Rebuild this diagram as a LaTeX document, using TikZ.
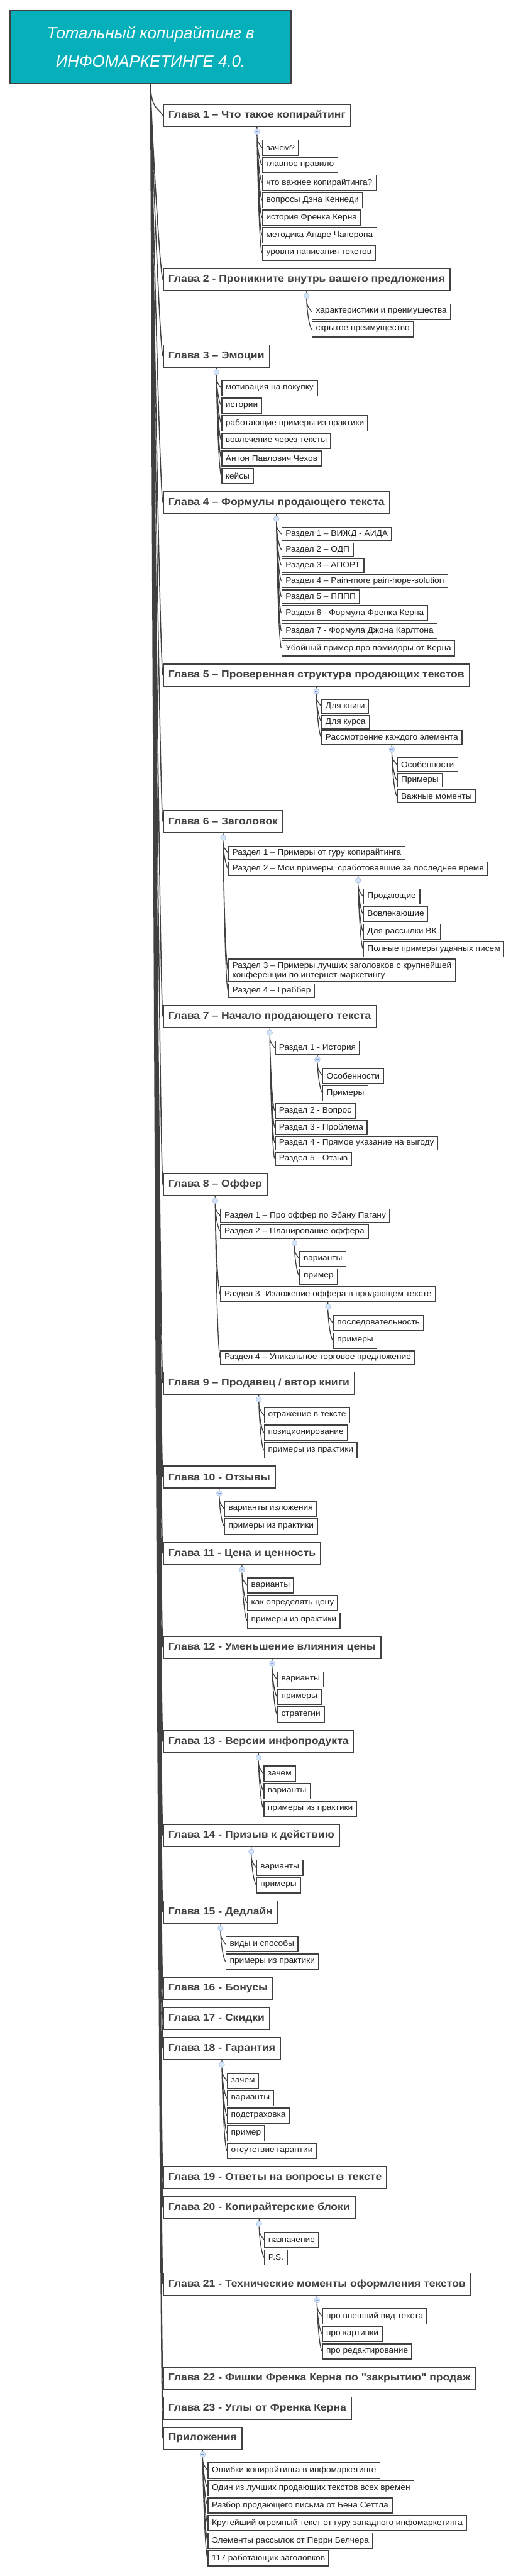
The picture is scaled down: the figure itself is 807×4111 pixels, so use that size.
\documentclass[tikz,border=0pt]{standalone}
\usepackage{fontspec}
\setmainfont{Liberation Sans}[FakeStretch=1.06]
\newfontfamily\glavaface{Liberation Sans}[FakeStretch=1.1]
\newfontfamily\titlefont{Liberation Sans}
\usetikzlibrary{calc}

\definecolor{ink}{HTML}{404040}
\definecolor{leafink}{HTML}{1E1E1E}
\definecolor{titlefill}{HTML}{06B0BA}
\definecolor{knobfill}{HTML}{D6E4F8}
\definecolor{knobline}{HTML}{A4BEEA}
\definecolor{knobdash}{HTML}{7D9AD0}

\newcommand\glavafont{\glavaface\fontsize{16}{19}\selectfont\bfseries}
\newcommand\punktfont{\fontsize{13}{15}\selectfont}

\begin{document}
\begin{tikzpicture}[x=1pt, y=-1pt,
    every node/.style={text=leafink, font=\punktfont},
    rootbox/.style={draw=ink, line width=2pt, fill=titlefill, anchor=north west,
        minimum width=448pt, minimum height=116.6pt, align=center, text=white,
        font=\titlefont\itshape\fontsize{26}{45}\selectfont},
    glava/.style={draw=ink, line width=1.7pt, fill=white, anchor=north west,
        minimum height=35.3pt, inner xsep=8pt, inner ysep=0pt, text=ink, font=\glavafont},
    punkt/.style={draw=ink, line width=1.5pt, fill=white, anchor=north west, xshift=8pt,
        minimum height=24.3pt, inner xsep=6pt, inner ysep=0pt},
    razdel/.style={punkt, minimum height=21.7pt},
    knob/.style={circle, draw=knobline, fill=knobfill, line width=0.6pt,
        minimum size=8.7pt, inner sep=0pt,
        path picture={\draw[knobdash, line width=0.8pt]
            ([xshift=-2pt]path picture bounding box.center) --
            ([xshift=2pt]path picture bounding box.center);}},
    trunk/.style={draw=ink, line width=1.5pt,
        to path={.. controls +(0,40) and +(-5,-10) .. (\tikztotarget)}},
    twig/.style={draw=ink, line width=1.3pt,
        to path={.. controls +(0,12) and +(-5,-7) .. (\tikztotarget)}},
]

\fill[white] (0,0) rectangle (807,4111);
\useasboundingbox (0,0) rectangle (807,4111);

% --- ROOT ---
\node[rootbox] (root) at (15.5,15.7) {Тотальный копирайтинг в\\ИНФОМАРКЕТИНГЕ 4.0.};

% --- Chapter 1 ---
\node[glava] (g1) at (260,165.7) {Глава 1 – Что такое копирайтинг};
\node[knob] (k1) at ([yshift=-7.3pt]g1.south) {};
\node[punkt] (g1a) at (k1 |- 0,222.7) {зачем?};
\node[punkt] (g1b) at (k1 |- 0,250.7) {главное правило};
\node[punkt] (g1c) at (k1 |- 0,278.7) {что важнее копирайтинга?};
\node[punkt] (g1d) at (k1 |- 0,306.7) {вопросы Дэна Кеннеди};
\node[punkt] (g1e) at (k1 |- 0,334.7) {история Френка Керна};
\node[punkt] (g1f) at (k1 |- 0,362.7) {методика Андре Чаперона};
\node[punkt] (g1g) at (k1 |- 0,390.7) {уровни написания текстов};
\draw[twig] (g1.south) -- (k1.north)
    (k1.south) to (g1a.west) (k1.south) to (g1b.west) (k1.south) to (g1c.west)
    (k1.south) to (g1d.west) (k1.south) to (g1e.west) (k1.south) to (g1f.west)
    (k1.south) to (g1g.west);

% --- Chapter 2 ---
\node[glava] (g2) at (260,427.7) {Глава 2 - Проникните внутрь вашего предложения};
\node[knob] (k2) at ([yshift=-7.3pt]g2.south) {};
\node[punkt] (g2a) at (k2 |- 0,484.7) {характеристики и преимущества};
\node[punkt] (g2b) at (k2 |- 0,512.7) {скрытое преимущество};
\draw[twig] (g2.south) -- (k2.north)
    (k2.south) to (g2a.west) (k2.south) to (g2b.west);

% --- Chapter 3 ---
\node[glava] (g3) at (260,549.7) {Глава 3 – Эмоции};
\node[knob] (k3) at ([yshift=-7.3pt]g3.south) {};
\node[punkt] (g3a) at (k3 |- 0,606.7) {мотивация на покупку};
\node[punkt] (g3b) at (k3 |- 0,634.7) {истории};
\node[punkt] (g3c) at (k3 |- 0,662.7) {работающие примеры из практики};
\node[punkt] (g3d) at (k3 |- 0,690.7) {вовлечение через тексты};
\node[punkt] (g3e) at (k3 |- 0,718.7) {Антон Павлович Чехов};
\node[punkt] (g3f) at (k3 |- 0,746.7) {кейсы};
\draw[twig] (g3.south) -- (k3.north)
    (k3.south) to (g3a.west) (k3.south) to (g3b.west) (k3.south) to (g3c.west)
    (k3.south) to (g3d.west) (k3.south) to (g3e.west) (k3.south) to (g3f.west);

% --- Chapter 4 ---
\node[glava] (g4) at (260,783.7) {Глава 4 – Формулы продающего текста};
\node[knob] (k4) at ([yshift=-7.3pt]g4.south) {};
\node[razdel] (g4a) at (k4 |- 0,840.7) {Раздел 1 – ВИЖД - АИДА};
\node[razdel] (g4b) at (k4 |- 0,865.7) {Раздел 2 – ОДП};
\node[razdel] (g4c) at (k4 |- 0,890.7) {Раздел 3 – АПОРТ};
\node[razdel] (g4d) at (k4 |- 0,915.7) {Раздел 4 – Pain-more pain-hope-solution};
\node[razdel] (g4e) at (k4 |- 0,940.7) {Раздел 5 – ПППП};
\node[punkt] (g4f) at (k4 |- 0,965.7) {Раздел 6 - Формула Френка Керна};
\node[punkt] (g4g) at (k4 |- 0,993.7) {Раздел 7 - Формула Джона Карлтона};
\node[punkt] (g4h) at (k4 |- 0,1021.7) {Убойный пример про помидоры от Керна};
\draw[twig] (g4.south) -- (k4.north)
    (k4.south) to (g4a.west) (k4.south) to (g4b.west) (k4.south) to (g4c.west)
    (k4.south) to (g4d.west) (k4.south) to (g4e.west) (k4.south) to (g4f.west)
    (k4.south) to (g4g.west) (k4.south) to (g4h.west);

% --- Chapter 5 ---
\node[glava] (g5) at (260,1058.7) {Глава 5 – Проверенная структура продающих текстов};
\node[knob] (k5) at ([yshift=-7.3pt]g5.south) {};
\node[razdel] (g5a) at (k5 |- 0,1115.7) {Для книги};
\node[razdel] (g5b) at (k5 |- 0,1140.7) {Для курса};
\node[razdel] (g5c) at (k5 |- 0,1165.7) {Рассмотрение каждого элемента};
\node[knob] (k5c) at ([yshift=-7pt]g5c.south) {};
\node[razdel] (g5c1) at (k5c |- 0,1208.7) {Особенности};
\node[razdel] (g5c2) at (k5c |- 0,1233.7) {Примеры};
\node[razdel] (g5c3) at (k5c |- 0,1258.7) {Важные моменты};
\draw[twig] (g5.south) -- (k5.north)
    (k5.south) to (g5a.west) (k5.south) to (g5b.west) (k5.south) to (g5c.west)
    (g5c.south) -- (k5c.north)
    (k5c.south) to (g5c1.west) (k5c.south) to (g5c2.west) (k5c.south) to (g5c3.west);

% --- Chapter 6 ---
\node[glava] (g6) at (260,1292.7) {Глава 6 – Заголовок};
\node[knob] (k6) at ([yshift=-7.3pt]g6.south) {};
\node[razdel] (g6a) at (k6 |- 0,1349.7) {Раздел 1 – Примеры от гуру копирайтинга};
\node[razdel] (g6b) at (k6 |- 0,1374.7) {Раздел 2 – Мои примеры, сработовавшие за последнее время};
\node[knob] (k6b) at ([yshift=-7pt]g6b.south) {};
\node[punkt] (g6b1) at (k6b |- 0,1417.7) {Продающие};
\node[punkt] (g6b2) at (k6b |- 0,1446) {Вовлекающие};
\node[punkt] (g6b3) at (k6b |- 0,1474) {Для рассылки ВК};
\node[punkt] (g6b4) at (k6b |- 0,1502) {Полные примеры удачных писем};
\node[punkt, align=left, minimum height=36pt] (g6c) at (k6 |- 0,1530)
    {Раздел 3 – Примеры лучших заголовков с крупнейшей\\конференции по интернет-маркетингу};
\node[razdel] (g6d) at (k6 |- 0,1569.7) {Раздел 4 – Граббер};
\draw[twig] (g6.south) -- (k6.north)
    (k6.south) to (g6a.west) (k6.south) to (g6b.west)
    (g6b.south) -- (k6b.north)
    (k6b.south) to (g6b1.west) (k6b.south) to (g6b2.west)
    (k6b.south) to (g6b3.west) (k6b.south) to (g6b4.west)
    (k6.south) to (g6c.west) (k6.south) to (g6d.west);

% --- Chapter 7 ---
\node[glava] (g7) at (260,1603.7) {Глава 7 – Начало продающего текста};
\node[knob] (k7) at ([yshift=-7.3pt]g7.south) {};
\node[razdel] (g7a) at (k7 |- 0,1660.7) {Раздел 1 - История};
\node[knob] (k7a) at ([yshift=-7pt]g7a.south) {};
\node[punkt] (g7a1) at (k7a |- 0,1703.7) {Особенности};
\node[punkt] (g7a2) at (k7a |- 0,1731.7) {Примеры};
\node[punkt] (g7b) at (k7 |- 0,1760) {Раздел 2 - Вопрос};
\node[razdel] (g7c) at (k7 |- 0,1787.7) {Раздел 3 - Проблема};
\node[razdel] (g7d) at (k7 |- 0,1812.7) {Раздел 4 - Прямое указание на выгоду};
\node[razdel] (g7e) at (k7 |- 0,1837.7) {Раздел 5 - Отзыв};
\draw[twig] (g7.south) -- (k7.north)
    (k7.south) to (g7a.west)
    (g7a.south) -- (k7a.north)
    (k7a.south) to (g7a1.west) (k7a.south) to (g7a2.west)
    (k7.south) to (g7b.west) (k7.south) to (g7c.west)
    (k7.south) to (g7d.west) (k7.south) to (g7e.west);

% --- Chapter 8 ---
\node[glava] (g8) at (260,1872) {Глава 8 – Оффер};
\node[knob] (k8) at ([yshift=-7.3pt]g8.south) {};
\node[razdel] (g8a) at (k8 |- 0,1928.7) {Раздел 1 – Про оффер по Эбану Пагану};
\node[razdel] (g8b) at (k8 |- 0,1953.7) {Раздел 2 – Планирование оффера};
\node[knob] (k8b) at ([yshift=-7pt]g8b.south) {};
\node[punkt] (g8b1) at (k8b |- 0,1996.3) {варианты};
\node[punkt] (g8b2) at (k8b |- 0,2024.3) {пример};
\node[punkt] (g8c) at (k8 |- 0,2052.7) {Раздел 3 -Изложение оффера в продающем тексте};
\node[knob] (k8c) at ([yshift=-7pt]g8c.south) {};
\node[punkt] (g8c1) at (k8c |- 0,2098.7) {последовательность};
\node[punkt] (g8c2) at (k8c |- 0,2126.7) {примеры};
\node[razdel] (g8d) at (k8 |- 0,2155) {Раздел 4 – Уникальное торговое предложение};
\draw[twig] (g8.south) -- (k8.north)
    (k8.south) to (g8a.west) (k8.south) to (g8b.west)
    (g8b.south) -- (k8b.north)
    (k8b.south) to (g8b1.west) (k8b.south) to (g8b2.west)
    (k8.south) to (g8c.west)
    (g8c.south) -- (k8c.north)
    (k8c.south) to (g8c1.west) (k8c.south) to (g8c2.west)
    (k8.south) to (g8d.west);

% --- Chapter 9 ---
\node[glava] (g9) at (260,2188.7) {Глава 9 – Продавец / автор книги};
\node[knob] (k9) at ([yshift=-7.3pt]g9.south) {};
\node[punkt] (g9a) at (k9 |- 0,2245.7) {отражение в тексте};
\node[punkt] (g9b) at (k9 |- 0,2273.7) {позиционирование};
\node[punkt] (g9c) at (k9 |- 0,2301.7) {примеры из практики};
\draw[twig] (g9.south) -- (k9.north)
    (k9.south) to (g9a.west) (k9.south) to (g9b.west) (k9.south) to (g9c.west);

% --- Chapter 10 ---
\node[glava] (g10) at (260,2338.7) {Глава 10 - Отзывы};
\node[knob] (k10) at ([yshift=-7.3pt]g10.south) {};
\node[punkt] (g10a) at (k10 |- 0,2395.3) {варианты изложения};
\node[punkt] (g10b) at (k10 |- 0,2423.3) {примеры из практики};
\draw[twig] (g10.south) -- (k10.north)
    (k10.south) to (g10a.west) (k10.south) to (g10b.west);

% --- Chapter 11 ---
\node[glava] (g11) at (260,2460.7) {Глава 11 - Цена и ценность};
\node[knob] (k11) at ([yshift=-7.3pt]g11.south) {};
\node[punkt] (g11a) at (k11 |- 0,2517.3) {варианты};
\node[punkt] (g11b) at (k11 |- 0,2545.3) {как определять цену};
\node[punkt] (g11c) at (k11 |- 0,2573.3) {примеры из практики};
\draw[twig] (g11.south) -- (k11.north)
    (k11.south) to (g11a.west) (k11.south) to (g11b.west) (k11.south) to (g11c.west);

% --- Chapter 12 ---
\node[glava] (g12) at (260,2610.3) {Глава 12 - Уменьшение влияния цены};
\node[knob] (k12) at ([yshift=-7.3pt]g12.south) {};
\node[punkt] (g12a) at (k12 |- 0,2667.3) {варианты};
\node[punkt] (g12b) at (k12 |- 0,2695.3) {примеры};
\node[punkt] (g12c) at (k12 |- 0,2723.3) {стратегии};
\draw[twig] (g12.south) -- (k12.north)
    (k12.south) to (g12a.west) (k12.south) to (g12b.west) (k12.south) to (g12c.west);

% --- Chapter 13 ---
\node[glava] (g13) at (260,2761) {Глава 13 - Версии инфопродукта};
\node[knob] (k13) at ([yshift=-7.3pt]g13.south) {};
\node[punkt] (g13a) at (k13 |- 0,2817.7) {зачем};
\node[punkt] (g13b) at (k13 |- 0,2845.7) {варианты};
\node[punkt] (g13c) at (k13 |- 0,2873.7) {примеры из практики};
\draw[twig] (g13.south) -- (k13.north)
    (k13.south) to (g13a.west) (k13.south) to (g13b.west) (k13.south) to (g13c.west);

% --- Chapter 14 ---
\node[glava] (g14) at (260,2910.7) {Глава 14 - Призыв к действию};
\node[knob] (k14) at ([yshift=-7.3pt]g14.south) {};
\node[punkt] (g14a) at (k14 |- 0,2967.7) {варианты};
\node[punkt] (g14b) at (k14 |- 0,2995.7) {примеры};
\draw[twig] (g14.south) -- (k14.north)
    (k14.south) to (g14a.west) (k14.south) to (g14b.west);

% --- Chapter 15 ---
\node[glava] (g15) at (260,3032.7) {Глава 15 - Дедлайн};
\node[knob] (k15) at ([yshift=-7.3pt]g15.south) {};
\node[punkt] (g15a) at (k15 |- 0,3089.7) {виды и способы};
\node[punkt] (g15b) at (k15 |- 0,3117.7) {примеры из практики};
\draw[twig] (g15.south) -- (k15.north)
    (k15.south) to (g15a.west) (k15.south) to (g15b.west);

% --- Chapters 16, 17 ---
\node[glava] (g16) at (260,3154.7) {Глава 16 - Бонусы};
\node[glava] (g17) at (260,3202.7) {Глава 17 - Скидки};

% --- Chapter 18 ---
\node[glava] (g18) at (260,3250.7) {Глава 18 - Гарантия};
\node[knob] (k18) at ([yshift=-7.3pt]g18.south) {};
\node[punkt] (g18a) at (k18 |- 0,3307.7) {зачем};
\node[punkt] (g18b) at (k18 |- 0,3335.7) {варианты};
\node[punkt] (g18c) at (k18 |- 0,3363.7) {подстраховка};
\node[punkt] (g18d) at (k18 |- 0,3391.7) {пример};
\node[punkt] (g18e) at (k18 |- 0,3419.7) {отсутствие гарантии};
\draw[twig] (g18.south) -- (k18.north)
    (k18.south) to (g18a.west) (k18.south) to (g18b.west) (k18.south) to (g18c.west)
    (k18.south) to (g18d.west) (k18.south) to (g18e.west);

% --- Chapters 19, 20 ---
\node[glava] (g19) at (260,3456.7) {Глава 19 - Ответы на вопросы в тексте};
\node[glava] (g20) at (260,3504.7) {Глава 20 - Копирайтерские блоки};
\node[knob] (k20) at ([yshift=-7.3pt]g20.south) {};
\node[punkt] (g20a) at (k20 |- 0,3561.7) {назначение};
\node[punkt] (g20b) at (k20 |- 0,3589.7) {P.S.};
\draw[twig] (g20.south) -- (k20.north)
    (k20.south) to (g20a.west) (k20.south) to (g20b.west);

% --- Chapter 21 ---
\node[glava] (g21) at (260,3626.7) {Глава 21 - Технические моменты оформления текстов};
\node[knob] (k21) at ([yshift=-7.3pt]g21.south) {};
\node[punkt] (g21a) at (k21 |- 0,3683.7) {про внешний вид текста};
\node[punkt] (g21b) at (k21 |- 0,3711.7) {про картинки};
\node[punkt] (g21c) at (k21 |- 0,3739.7) {про редактирование};
\draw[twig] (g21.south) -- (k21.north)
    (k21.south) to (g21a.west) (k21.south) to (g21b.west) (k21.south) to (g21c.west);

% --- Chapters 22, 23, appendix ---
\node[glava] (g22) at (260,3776.7) {Глава 22 - Фишки Френка Керна по "закрытию" продаж};
\node[glava] (g23) at (260,3824.7) {Глава 23 - Углы от Френка Керна};
\node[glava] (pril) at (260,3872.7) {Приложения};
\node[knob] (kp) at ([yshift=-7.3pt]pril.south) {};
\node[punkt] (pa) at (kp |- 0,3929.7) {Ошибки копирайтинга в инфомаркетинге};
\node[punkt] (pb) at (kp |- 0,3957.7) {Один из лучших продающих текстов всех времен};
\node[punkt] (pc) at (kp |- 0,3985.7) {Разбор продающего письма от Бена Сеттла};
\node[punkt] (pd) at (kp |- 0,4013.7) {Крутейший огромный текст от гуру западного инфомаркетинга};
\node[punkt] (pe) at (kp |- 0,4041.7) {Элементы рассылок от Перри Белчера};
\node[punkt] (pf) at (kp |- 0,4069.7) {117 работающих заголовков};
\draw[twig] (pril.south) -- (kp.north)
    (kp.south) to (pa.west) (kp.south) to (pb.west) (kp.south) to (pc.west)
    (kp.south) to (pd.west) (kp.south) to (pe.west) (kp.south) to (pf.west);

% --- Trunk: root to every chapter ---
\draw[trunk] (root.south) to (g1.west) (root.south) to (g2.west) (root.south) to (g3.west)
    (root.south) to (g4.west) (root.south) to (g5.west) (root.south) to (g6.west)
    (root.south) to (g7.west) (root.south) to (g8.west) (root.south) to (g9.west)
    (root.south) to (g10.west) (root.south) to (g11.west) (root.south) to (g12.west)
    (root.south) to (g13.west) (root.south) to (g14.west) (root.south) to (g15.west)
    (root.south) to (g16.west) (root.south) to (g17.west) (root.south) to (g18.west)
    (root.south) to (g19.west) (root.south) to (g20.west) (root.south) to (g21.west)
    (root.south) to (g22.west) (root.south) to (g23.west) (root.south) to (pril.west);

\end{tikzpicture}
\end{document}
